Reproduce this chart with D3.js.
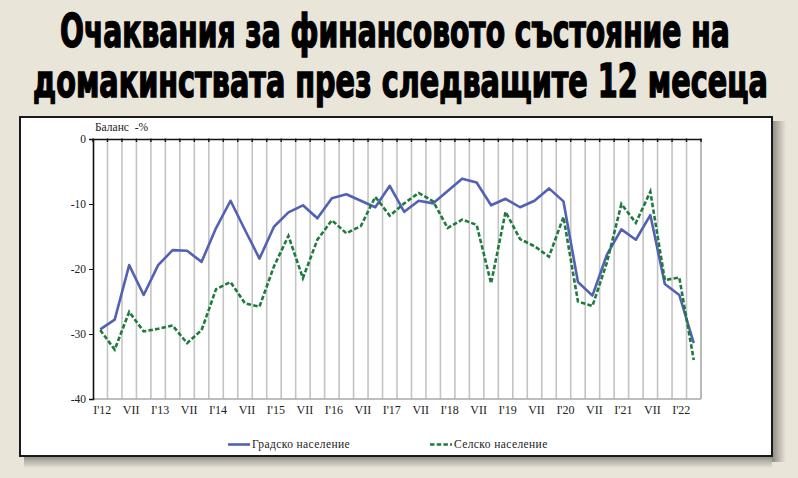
<!DOCTYPE html>
<html><head><meta charset="utf-8">
<script src="https://cdn.jsdelivr.net/npm/d3@7"></script>
<style>
html,body{margin:0;padding:0;background:#e9e5d9;}
svg{display:block;}
</style></head>
<body>
<svg id="chart" width="798" height="478"></svg>
<script>
// ---- data ----
const titleLines = ["Очаквания за финансовото състояние на", "домакинствата през следващите 12 месеца"];
const yAxisTitle = "Баланс  -%";
const quarters = [
 "I'12","IV'12","VII'12","X'12","I'13","IV'13","VII'13","X'13","I'14","IV'14","VII'14","X'14",
 "I'15","IV'15","VII'15","X'15","I'16","IV'16","VII'16","X'16","I'17","IV'17","VII'17","X'17",
 "I'18","IV'18","VII'18","X'18","I'19","IV'19","VII'19","X'19","I'20","IV'20","VII'20","X'20",
 "I'21","IV'21","VII'21","X'21","I'22","IV'22"];
const tickLabels = ["I'12","VII","I'13","VII","I'14","VII","I'15","VII","I'16","VII","I'17","VII",
 "I'18","VII","I'19","VII","I'20","VII","I'21","VII","I'22"];
const seriesNames = ["Градско население", "Селско население"];
const urban = [-29.3,-27.8,-19.4,-24.0,-19.4,-17.1,-17.2,-18.9,-13.7,-9.5,-14.0,-18.4,
 -13.5,-11.3,-10.2,-12.2,-9.1,-8.5,-9.5,-10.5,-7.2,-11.2,-9.5,-9.9,
 -8.0,-6.1,-6.7,-10.2,-9.2,-10.5,-9.5,-7.6,-9.6,-22.0,-24.1,-17.8,
 -13.9,-15.5,-11.7,-22.3,-24.0,-31.4];
const rural = [-29.4,-32.4,-26.6,-29.6,-29.2,-28.7,-31.4,-29.4,-23.1,-22.0,-25.3,-25.8,
 -19.6,-14.9,-21.4,-15.5,-12.5,-14.5,-13.4,-8.9,-11.8,-9.9,-8.3,-9.6,
 -13.7,-12.4,-13.2,-22.2,-11.2,-15.4,-16.5,-18.1,-12.0,-25.0,-25.7,-19.0,
 -10.0,-12.9,-8.1,-21.7,-21.3,-34.0];
const yTicks = [0,-10,-20,-30,-40];

// ---- drawing ----
const svg = d3.select("#chart");
const defs = svg.append("defs");
const gr = defs.append("linearGradient").attr("id","shR").attr("x1",0).attr("x2",1).attr("y1",0).attr("y2",0);
gr.append("stop").attr("offset","0%").attr("stop-color","#8d8a82");
gr.append("stop").attr("offset","100%").attr("stop-color","#e9e5d9");
const gb = defs.append("linearGradient").attr("id","shB").attr("x1",0).attr("x2",0).attr("y1",0).attr("y2",1);
gb.append("stop").attr("offset","0%").attr("stop-color","#8d8a82");
gb.append("stop").attr("offset","100%").attr("stop-color","#e9e5d9");

// title
const titleFont = "'Liberation Sans Narrow','DejaVu Sans Condensed',sans-serif";
const tl = [{x1:60,x2:730,base:47},{x1:33,x2:768,base:97}];
titleLines.forEach((t,i)=>{
  const txt = svg.append("text")
    .attr("x",0).attr("y",0)
    .attr("font-family",titleFont).attr("font-weight","bold").attr("font-size",38)
    .attr("stroke","#000").attr("stroke-width",1.2)
    .attr("fill","#000").text(t);
  const w = txt.node().getComputedTextLength();
  const sx = (tl[i].x2-tl[i].x1)/w;
  txt.attr("transform",`translate(${tl[i].x1},${tl[i].base}) scale(${sx},1.22)`);
});

// panel with shadow
svg.append("rect").attr("x",772).attr("y",121).attr("width",14).attr("height",341).attr("fill","url(#shR)");
svg.append("rect").attr("x",24).attr("y",456).attr("width",748).attr("height",12).attr("fill","url(#shB)");
svg.append("rect").attr("x",20).attr("y",117).attr("width",752).attr("height",339)
  .attr("fill","#fff").attr("stroke","#1a1a1a").attr("stroke-width",2);

const pLeft=93, pRight=701, pTop=139, pBottom=399;
const x = d3.scaleBand().domain(d3.range(quarters.length)).range([pLeft,pRight]).padding(0);
const y = d3.scaleLinear().domain([-40,0]).range([pBottom,pTop]);
const cx = i => x(i)+x.bandwidth()/2;

// gridlines at category boundaries
const g = svg.append("g");
g.selectAll("line.grid").data(d3.range(1,quarters.length)).join("line")
  .attr("x1",d=>x(d)).attr("x2",d=>x(d)).attr("y1",pTop).attr("y2",pBottom)
  .attr("stroke","#c4c4c4").attr("stroke-width",1.6);
// plot border right/bottom
g.append("line").attr("x1",pRight).attr("x2",pRight).attr("y1",pTop).attr("y2",pBottom).attr("stroke","#a8a8a8").attr("stroke-width",1.6);
g.append("line").attr("x1",pLeft).attr("x2",pRight).attr("y1",pBottom).attr("y2",pBottom).attr("stroke","#a8a8a8").attr("stroke-width",1.6);

// category axis at value 0 (top)
const xAxis = d3.axisTop(x).tickValues([]).tickSizeOuter(0);
const xa = svg.append("g").attr("transform",`translate(0,${y(0)})`).call(xAxis);
xa.select(".domain").attr("stroke","#111").attr("stroke-width",1.6);
svg.append("g").selectAll("line").data(d3.range(0,quarters.length+1)).join("line")
  .attr("x1",d=>pLeft+d*x.bandwidth()).attr("x2",d=>pLeft+d*x.bandwidth())
  .attr("y1",y(0)-0.5).attr("y2",y(0)+3).attr("stroke","#111").attr("stroke-width",1.4);

// category labels at the bottom
svg.append("g").selectAll("text").data(tickLabels).join("text")
  .attr("x",(d,i)=>cx(i*2)+2).attr("y",pBottom+15)
  .attr("text-anchor","middle").attr("font-family","'Liberation Serif',serif").attr("font-size",12)
  .attr("fill","#222").text(d=>d);

// value axis
const yAxis = d3.axisLeft(y).tickValues(yTicks).tickSize(4).tickPadding(3).tickFormat(d3.format("d"));
const ya = svg.append("g").attr("transform",`translate(${pLeft},0)`).call(yAxis);
ya.select(".domain").attr("stroke","#111").attr("stroke-width",1.6);
ya.selectAll(".tick line").attr("stroke","#111");
ya.selectAll(".tick text").attr("font-family","'Liberation Serif',serif").attr("font-size",11.5).attr("fill","#222")
  .text(d=>d===0?"0":"-"+Math.abs(d));

svg.append("text").attr("x",95).attr("y",131).attr("font-family","'Liberation Serif',serif")
  .attr("font-size",11.5).attr("fill","#222").attr("xml:space","preserve").text(yAxisTitle);

// lines
const line = d3.line().x((d,i)=>cx(i)).y(d=>y(d));
svg.append("path").datum(urban).attr("d",line).attr("fill","none")
  .attr("stroke","#5361b5").attr("stroke-width",2.6).attr("stroke-linejoin","round");
svg.append("path").datum(rural).attr("d",line).attr("fill","none")
  .attr("stroke","#1f7a3e").attr("stroke-width",2.6).attr("stroke-dasharray","4.5,2.2");

// legend
const lg = svg.append("g");
const legendItems = [
  {name:seriesNames[0], color:"#5361b5", dash:null, x:228},
  {name:seriesNames[1], color:"#1f7a3e", dash:"4.5,2.2", x:430}
];
legendItems.forEach(it=>{
  lg.append("line").attr("x1",it.x).attr("x2",it.x+22).attr("y1",444.5).attr("y2",444.5)
    .attr("stroke",it.color).attr("stroke-width",2.6).attr("stroke-dasharray",it.dash);
  lg.append("text").attr("x",it.x+24).attr("y",448).attr("font-family","'Liberation Serif',serif")
    .attr("font-size",11.5).attr("letter-spacing",0.4).attr("fill","#222").text(it.name);
});
</script>
</body></html>
